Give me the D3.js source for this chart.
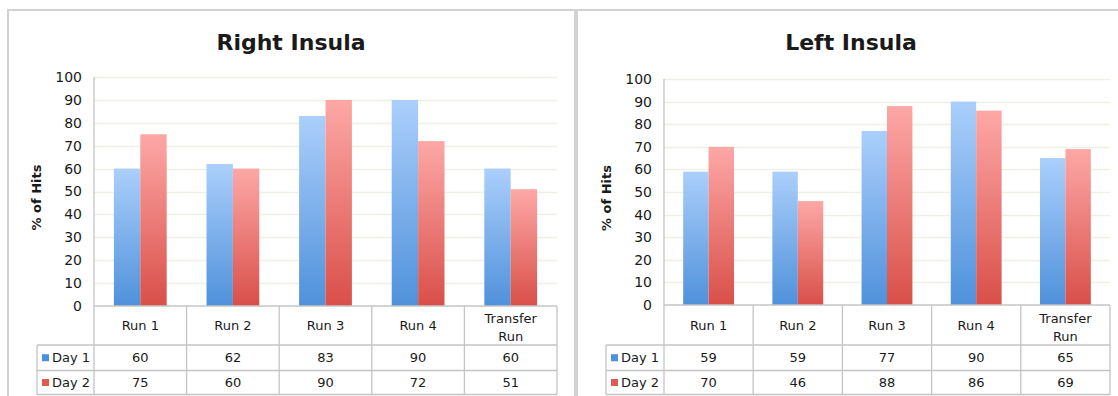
<!DOCTYPE html>
<html>
<head>
<meta charset="utf-8">
<script src="https://cdn.jsdelivr.net/npm/d3@7"></script>
<style>
  html, body { margin: 0; padding: 0; background: #ffffff; }
  svg { display: block; }
  text { font-family: "DejaVu Sans", "Noto Sans", sans-serif; fill: #1a1a1a; }
</style>
</head>
<body>
<svg id="chart" width="1118" height="396"></svg>
<script>
// Run categories shown along the x axis and in the data table
const categories = ["Run 1", "Run 2", "Run 3", "Run 4", "Transfer Run"];
const seriesNames = ["Day 1", "Day 2"];

// % of hits per run, right insula
const rightDay1 = [60, 62, 83, 90, 60];
const rightDay2 = [75, 60, 90, 72, 51];

// % of hits per run, left insula
const leftDay1 = [59, 59, 77, 90, 65];
const leftDay2 = [70, 46, 88, 86, 69];

const yTicks = [0, 10, 20, 30, 40, 50, 60, 70, 80, 90, 100];

const svg = d3.select("#chart");
const defs = svg.append("defs");

// Vertical gradients for the two series (light at top, saturated at bottom)
const gradients = [
  { id: "gradDay1", top: "#abcffb", bottom: "#4f91db", swatch: "#4a90e0" },
  { id: "gradDay2", top: "#fda8a6", bottom: "#d94f49", swatch: "#e05a55" }
];
gradients.forEach(g => {
  const lg = defs.append("linearGradient")
    .attr("id", g.id).attr("x1", 0).attr("y1", 0).attr("x2", 0).attr("y2", 1);
  lg.append("stop").attr("offset", "0%").attr("stop-color", g.top);
  lg.append("stop").attr("offset", "100%").attr("stop-color", g.bottom);
});

const gridColor = "#efefe3";
const tableColor = "#c4c4c4";
const frameColor = "#d2d2d2";

function drawPanel(cfg) {
  const g = svg.append("g");

  // Panel frame
  g.append("path")
    .attr("d", `M${cfg.frameLeft},${cfg.frameBottom} V${cfg.frameTop} H${cfg.frameRight} V${cfg.frameBottom}`)
    .attr("fill", "none").attr("stroke", frameColor).attr("stroke-width", 2);

  // Title
  g.append("text")
    .attr("x", cfg.titleX).attr("y", 50)
    .attr("text-anchor", "middle")
    .style("font-size", "22px").style("font-weight", "bold")
    .text(cfg.title);

  const x = d3.scaleBand().domain(categories).range([cfg.plotLeft, cfg.plotRight]).padding(0);
  const xs = d3.scaleBand().domain(seriesNames)
    .range([x.bandwidth() * 0.215, x.bandwidth() * 0.785]).padding(0);
  const y = d3.scaleLinear().domain([0, 100]).range([cfg.plotBottom, cfg.plotTop]);

  // Horizontal gridlines
  g.append("g").selectAll("line").data(yTicks.filter(t => t > 0)).join("line")
    .attr("x1", cfg.plotLeft).attr("x2", cfg.plotRight)
    .attr("y1", d => Math.round(y(d)) + 0.5).attr("y2", d => Math.round(y(d)) + 0.5)
    .attr("stroke", gridColor).attr("stroke-width", 1.5);

  // Y axis with tick labels
  const yAxis = d3.axisLeft(y).tickValues(yTicks).tickSize(0).tickPadding(12);
  const ya = g.append("g").attr("transform", `translate(${cfg.plotLeft},0)`).call(yAxis);
  ya.select(".domain").remove();
  ya.selectAll("text")
    .style("font-size", "14px")
    .style("font-family", "'DejaVu Sans', sans-serif")
    .attr("fill", "#1a1a1a");

  // Y axis title
  g.append("text")
    .attr("transform", `translate(${cfg.yLabelX},${(cfg.plotTop + cfg.plotBottom) / 2 + 6}) rotate(-90)`)
    .attr("text-anchor", "middle")
    .style("font-size", "13px").style("font-weight", "bold")
    .text("% of Hits");

  // Bars
  const rows = categories.map((c, i) => ({ cat: c, values: [cfg.day1[i], cfg.day2[i]] }));
  const grp = g.append("g").selectAll("g").data(rows).join("g")
    .attr("transform", d => `translate(${x(d.cat)},0)`);
  grp.selectAll("rect")
    .data(d => d.values.map((v, k) => ({ name: seriesNames[k], value: v, k })))
    .join("rect")
    .attr("x", d => xs(d.name))
    .attr("width", xs.bandwidth())
    .attr("y", d => y(d.value))
    .attr("height", d => y(0) - y(d.value))
    .attr("fill", d => `url(#${gradients[d.k].id})`);

  // Data table beneath the plot
  const t = g.append("g").attr("stroke", tableColor).attr("stroke-width", 1.3).attr("fill", "none");
  const rowTop = cfg.plotBottom, rowCat = cfg.rowCat, rowD1 = cfg.rowD1, rowD2 = cfg.rowD2;
  // y axis line continuing down through the table
  t.append("line").attr("x1", cfg.plotLeft).attr("x2", cfg.plotLeft)
    .attr("y1", cfg.plotTop).attr("y2", rowD2);
  // horizontal rules
  t.append("line").attr("x1", cfg.plotLeft).attr("x2", cfg.plotRight).attr("y1", rowTop).attr("y2", rowTop);
  [rowCat, rowD1, rowD2].forEach(yy => {
    t.append("line").attr("x1", cfg.legendLeft).attr("x2", cfg.plotRight).attr("y1", yy).attr("y2", yy);
  });
  // legend column left edge
  t.append("line").attr("x1", cfg.legendLeft).attr("x2", cfg.legendLeft).attr("y1", rowCat).attr("y2", rowD2);
  // column separators
  categories.forEach(c => {
    const xr = x(c) + x.bandwidth();
    t.append("line").attr("x1", xr).attr("x2", xr).attr("y1", rowTop).attr("y2", rowD2);
  });

  // Category labels (the long label wraps onto two lines)
  categories.forEach(c => {
    const cx = x(c) + x.bandwidth() / 2;
    const lines = c.length > 8 ? c.split(" ") : [c];
    const cy = (rowTop + rowCat) / 2 + (lines.length > 1 ? 2 : 0);
    lines.forEach((ln, li) => {
      g.append("text")
        .attr("x", cx)
        .attr("y", cy + (li - (lines.length - 1) / 2) * 18)
        .attr("dy", "0.36em")
        .attr("text-anchor", "middle")
        .style("font-size", "13px")
        .text(ln);
    });
  });

  // Series rows: swatch, name and values
  const rowsY = [[rowCat, rowD1], [rowD1, rowD2]];
  seriesNames.forEach((name, k) => {
    const cy = (rowsY[k][0] + rowsY[k][1]) / 2;
    g.append("rect")
      .attr("x", cfg.legendLeft + 5).attr("y", cy - 3.5)
      .attr("width", 7).attr("height", 7)
      .attr("fill", gradients[k].swatch);
    g.append("text")
      .attr("x", cfg.legendLeft + 15).attr("y", cy).attr("dy", "0.36em")
      .style("font-size", "13px")
      .text(name);
    const vals = k === 0 ? cfg.day1 : cfg.day2;
    categories.forEach((c, i) => {
      g.append("text")
        .attr("x", x(c) + x.bandwidth() / 2).attr("y", cy).attr("dy", "0.36em")
        .attr("text-anchor", "middle")
        .style("font-size", "13px")
        .text(vals[i]);
    });
  });
}

drawPanel({
  title: "Right Insula", titleX: 291,
  frameLeft: 8, frameRight: 575, frameTop: 10, frameBottom: 400,
  plotLeft: 94, plotRight: 557, plotTop: 77, plotBottom: 306,
  rowCat: 345, rowD1: 370.5, rowD2: 394.5,
  legendLeft: 37, yLabelX: 41,
  day1: rightDay1, day2: rightDay2
});

drawPanel({
  title: "Left Insula", titleX: 851,
  frameLeft: 577, frameRight: 1130, frameTop: 10, frameBottom: 400,
  plotLeft: 664, plotRight: 1110, plotTop: 79, plotBottom: 305,
  rowCat: 345, rowD1: 370.5, rowD2: 394.5,
  legendLeft: 606, yLabelX: 611,
  day1: leftDay1, day2: leftDay2
});
</script>
</body>
</html>
